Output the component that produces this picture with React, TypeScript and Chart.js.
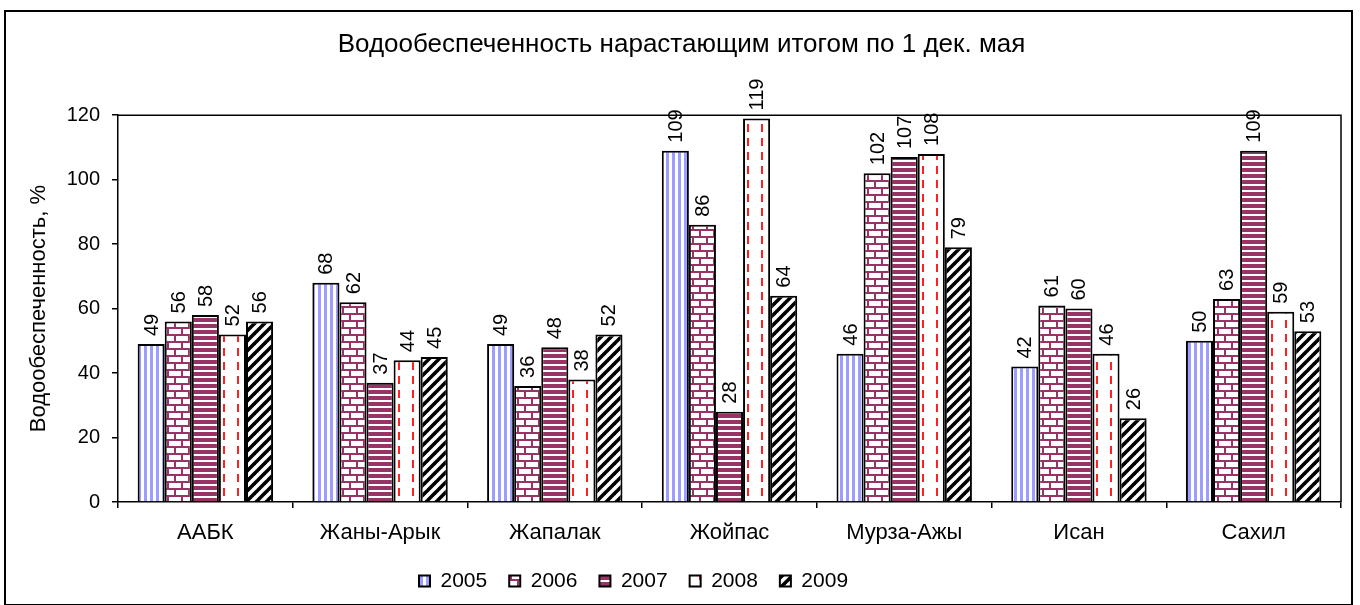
import React, { useEffect, useRef } from "react";
import { Chart, registerables } from "chart.js";

Chart.register(...registerables);

const chartTitle = "Водообеспеченность нарастающим итогом по 1 дек. мая";
const yAxisTitle = "Водообеспеченность, %";
const categories = ["ААБК", "Жаны-Арык", "Жапалак", "Жойпас", "Мурза-Ажы", "Исан", "Сахил"];
const seriesNames = ["2005", "2006", "2007", "2008", "2009"];
const values2005 = [49, 68, 49, 109, 46, 42, 50];
const values2006 = [56, 62, 36, 86, 102, 61, 63];
const values2007 = [58, 37, 48, 28, 107, 60, 109];
const values2008 = [52, 44, 38, 119, 108, 46, 59];
const values2009 = [56, 45, 52, 64, 79, 26, 53];
const yMin = 0;
const yMax = 120;
const yStep = 20;

const FONT = '"Liberation Sans", Arial, sans-serif';
const CAT_PCT = 0.775;

function tile(w: number, h: number, draw: (g: CanvasRenderingContext2D) => void) {
  const c = document.createElement("canvas");
  c.width = w;
  c.height = h;
  const g = c.getContext("2d")!;
  g.fillStyle = "#ffffff";
  g.fillRect(0, 0, w, h);
  draw(g);
  return c;
}

function makeTiles() {
  const maroon = "#993366";
  const t2005 = tile(6, 1, (g) => {
    g.fillStyle = "#9d9dff";
    g.fillRect(0, 0, 3, 1);
  });
  const t2006 = tile(14, 14, (g) => {
    g.fillStyle = maroon;
    g.fillRect(0, 0, 14, 2);
    g.fillRect(0, 7, 14, 2);
    g.fillRect(0, 2, 2, 5);
    g.fillRect(7, 9, 2, 5);
  });
  const t2007 = tile(1, 6, (g) => {
    g.fillStyle = maroon;
    g.fillRect(0, 0, 1, 4);
  });
  const t2008 = tile(14, 14, (g) => {
    g.fillStyle = "#ff2020";
    g.fillRect(5, 0, 2, 8);
  });
  const t2009 = tile(10, 10, (g) => {
    g.strokeStyle = "#000000";
    g.lineWidth = 3.6;
    for (const c of [0, 10, 20]) {
      g.beginPath();
      g.moveTo(c + 5, -5);
      g.lineTo(-5, c + 5);
      g.stroke();
    }
  });
  return [t2005, t2006, t2007, t2008, t2009];
}

const valueLabels = {
  id: "valueLabels",
  afterDatasetsDraw(chart: any) {
    const ctx = chart.ctx as CanvasRenderingContext2D;
    ctx.save();
    ctx.font = `20px ${FONT}`;
    ctx.fillStyle = "#000";
    ctx.textAlign = "left";
    ctx.textBaseline = "middle";
    chart.data.datasets.forEach((ds: any, i: number) => {
      const meta = chart.getDatasetMeta(i);
      meta.data.forEach((bar: any, j: number) => {
        ctx.save();
        ctx.translate(bar.x + 1, bar.y - 8);
        ctx.rotate(-Math.PI / 2);
        ctx.fillText(String(ds.data[j]), 0, 0);
        ctx.restore();
      });
    });
    ctx.restore();
  },
};

const plotFrame = {
  id: "plotFrame",
  beforeDatasetsDraw(chart: any) {
    const { ctx, chartArea } = chart;
    ctx.save();
    ctx.strokeStyle = "#000";
    ctx.lineWidth = 1.5;
    ctx.beginPath();
    ctx.moveTo(chartArea.left, chartArea.top);
    ctx.lineTo(chartArea.right, chartArea.top);
    ctx.lineTo(chartArea.right, chartArea.bottom);
    ctx.stroke();
    ctx.restore();
  },
};

const LEGEND_FONT = 21;

const legendPlace = {
  id: "legendPlace",
  afterLayout(chart: any) {
    const lg = chart.legend;
    if (!lg) return;
    const targetFirstX = 413;
    const targetCenterY = 569;
    const pad = lg.options.labels.padding;
    const lw = lg.lineWidths ? lg.lineWidths[0] : 0;
    const cursor = (lg.left + pad + lg.right - lw) / 2;
    const dx = targetFirstX - cursor;
    lg.left += dx;
    lg.right += dx;
    const rowCenter = lg.top + pad + LEGEND_FONT / 2;
    const dy = targetCenterY - rowCenter;
    lg.top += dy;
    lg.bottom += dy;
  },
};

export default function App() {
  const ref = useRef<HTMLCanvasElement | null>(null);

  useEffect(() => {
    const canvas = ref.current!;
    const ctx = canvas.getContext("2d")!;
    const tiles = makeTiles();
    const staticPatterns = tiles.map((t) => ctx.createPattern(t, "repeat")!);
    const seriesValues = [values2005, values2006, values2007, values2008, values2009];

    // pattern phase aligned to each bar's left edge (style only)
    const phasedPattern = (i: number, offset: number) => (c: any) => {
      const xs = c.chart && c.chart.scales ? c.chart.scales.x : null;
      if (!xs || c.type !== "data" || !(xs.right > xs.left)) return staticPatterns[i];
      const catW = (xs.right - xs.left) / categories.length;
      const groupW = catW * CAT_PCT;
      const barW = groupW / seriesNames.length;
      const left = xs.getPixelForValue(c.dataIndex) - groupW / 2 + i * barW;
      const p = ctx.createPattern(tiles[i], "repeat")!;
      if (typeof DOMMatrix !== "undefined" && p.setTransform) {
        p.setTransform(new DOMMatrix().translateSelf(Math.round(left + offset), 0));
      }
      return p;
    };

    const chart = new Chart(ctx, {
      type: "bar",
      data: {
        labels: categories,
        datasets: seriesNames.map((name, i) => ({
          label: name,
          data: seriesValues[i],
          backgroundColor: i === 3 ? phasedPattern(3, -1) : staticPatterns[i],
          borderColor: "#000000",
          borderWidth: 2,
          barPercentage: 1,
          categoryPercentage: CAT_PCT,
        })),
      },
      options: {
        responsive: false,
        animation: false,
        devicePixelRatio: 1,
        layout: { padding: { left: 16, right: 10, top: 0, bottom: 0 } },
        font: { family: FONT, size: 20 },
        plugins: {
          title: {
            display: true,
            text: chartTitle,
            color: "#000",
            font: { family: FONT, size: 26, weight: "normal" },
            padding: { top: 17, bottom: 55 },
          },
          legend: {
            position: "bottom",
            labels: {
              boxWidth: 11,
              boxHeight: 11,
              padding: 22,
              color: "#000",
              font: { family: FONT, size: LEGEND_FONT },
            },
          },
          tooltip: { enabled: false },
        },
        scales: {
          x: {
            grid: {
              display: true,
              drawOnChartArea: false,
              drawTicks: true,
              tickLength: 6,
              color: "#000",
              lineWidth: 1.5,
              offset: true,
            },
            border: { display: true, color: "#000", width: 1.5 },
            ticks: {
              color: "#000",
              font: { family: FONT, size: 22 },
              padding: 12,
              maxRotation: 0,
              autoSkip: false,
            },
            afterFit(scale: any) {
              const lh = scale.chart.legend ? scale.chart.legend.height : 54;
              scale.height = Math.max(40, scale.chart.height - lh - 490);
            },
          },
          y: {
            min: yMin,
            max: yMax,
            ticks: {
              stepSize: yStep,
              color: "#000",
              font: { family: FONT, size: 20 },
              padding: 12,
            },
            grid: {
              display: true,
              drawOnChartArea: false,
              drawTicks: true,
              tickLength: 6,
              color: "#000",
              lineWidth: 1.5,
            },
            border: { display: true, color: "#000", width: 1.5 },
            title: {
              display: true,
              text: yAxisTitle,
              color: "#000",
              font: { family: FONT, size: 22 },
              padding: { top: 4, bottom: 4 },
            },
            afterFit(scale: any) {
              scale.width = 96;
            },
          },
        },
      },
      plugins: [valueLabels, plotFrame, legendPlace],
    } as any);

    return () => chart.destroy();
  }, []);

  return (
    <div
      style={{
        position: "absolute",
        left: 4,
        top: 10,
        width: 1349,
        height: 596,
        border: "2px solid #000",
        boxSizing: "border-box",
        background: "#fff",
      }}
    >
      <canvas ref={ref} width={1345} height={592} style={{ display: "block", width: 1345, height: 592 }} />
    </div>
  );
}
